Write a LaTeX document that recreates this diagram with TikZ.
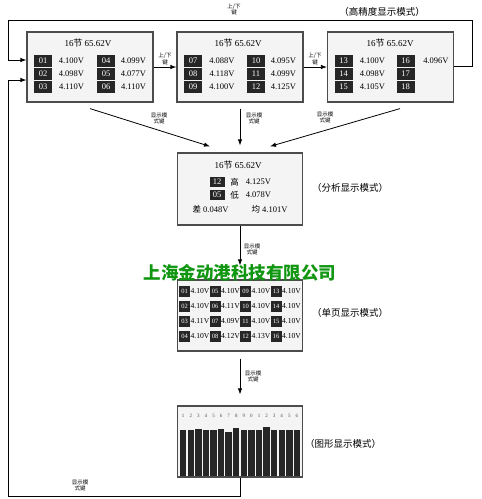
\documentclass[tikz,border=0pt]{standalone}
\usepackage{fontspec}
\setmainfont{Liberation Serif}
\newfontfamily\cjk{Noto Sans CJK SC}
\usetikzlibrary{arrows.meta}
\newcommand\zhs[1]{{\cjk #1}}
\definecolor{boxfill}{RGB}{244,244,244}
\definecolor{cellfill}{RGB}{38,38,38}
\definecolor{brandgreen}{RGB}{16,150,16}
\begin{document}
\begin{tikzpicture}[x=1pt,y=-1pt,
  panel/.style={draw=black!70, line width=1.2pt, fill=boxfill, minimum width=125pt, minimum height=70pt, inner sep=0},
  cell/.style={fill=cellfill, text=white, minimum width=18pt, minimum height=11.5pt, inner sep=0, font=\fontsize{8.5}{9}\selectfont},
  val/.style={inner sep=0, font=\fontsize{8.5}{9}\selectfont},
  ttl/.style={inner sep=0, font=\fontsize{9}{10}\selectfont},
  keylbl/.style={inner sep=0, align=center, font=\cjk\fontsize{5.5}{6.5}\selectfont},
  mode/.style={inner sep=0, font=\cjk\fontsize{9.5}{10}\selectfont},
  scell/.style={fill=cellfill, text=white, minimum width=11pt, minimum height=11pt, inner sep=0, font=\fontsize{6.5}{6.5}\selectfont},
  sval/.style={inner sep=0, font=\fontsize{7.6}{8}\selectfont},
  bar/.style={fill=cellfill, draw=none},
  link/.style={draw=black, line width=0.8pt},
  arr/.style={link, -{Latex[length=6pt,width=4.5pt]}},
]
\useasboundingbox (0,0) rectangle (482,499);

% ---------- top row ----------
\node[panel, minimum width=126pt] (p1) at (90,67) {};
\node[panel, minimum width=126pt] (p2) at (240,67) {};
\node[panel, minimum width=126pt] (p3) at (390.5,67) {};

\node[ttl] (p1t) at (88,43) {16\zhs{节} 65.62V};
\foreach \y/\a/\va/\b/\vb [count=\i] in {61/01/4.100V/04/4.099V, 74/02/4.098V/05/4.077V, 87/03/4.110V/06/4.110V}{
  \node[cell] (p1a\i) at (43,\y) {\a};
  \node[val] (p1av\i) at (71.5,\y) {\va};
  \node[cell] (p1b\i) at (106,\y) {\b};
  \node[val] (p1bv\i) at (133.5,\y) {\vb};
}
\node[ttl] (p2t) at (238,43) {16\zhs{节} 65.62V};
\foreach \y/\a/\va/\b/\vb [count=\i] in {61/07/4.088V/10/4.095V, 74/08/4.118V/11/4.099V, 87/09/4.100V/12/4.125V}{
  \node[cell] (p2a\i) at (193,\y) {\a};
  \node[val] (p2av\i) at (222,\y) {\va};
  \node[cell] (p2b\i) at (256,\y) {\b};
  \node[val] (p2bv\i) at (283.5,\y) {\vb};
}
\node[ttl] (p3t) at (390,43) {16\zhs{节} 65.62V};
\foreach \y/\a/\va/\b/\vb [count=\i] in {61/13/4.100V/16/4.096V, 74/14/4.098V/17/{}, 87/15/4.105V/18/{}}{
  \node[cell] (p3a\i) at (343.5,\y) {\a};
  \node[val] (p3av\i) at (372.5,\y) {\va};
  \node[cell] (p3b\i) at (405.5,\y) {\b};
  \node[val] (p3bv\i) at (436,\y) {\vb};
}

\draw[arr] (p1.east) -- (p2.west);
\draw[arr] (p2.east) -- (p3.west);
\node[keylbl] (k12) at (165,59) {上/下\\键};
\node[keylbl] (k23) at (315,59) {上/下\\键};

\coordinate (topR) at (472,20);
\coordinate (topL) at (8,20);
\draw[arr] ([yshift=1pt]p3.east) -| (topR) -- (topL) |- ([yshift=7pt]p1.west);
\node[keylbl] (ktop) at (234,9.5) {上/下\\键};
\node[mode] (m1) at (382,12) {（高精度显示模式）};

% ---------- analysis ----------
\node[panel, minimum height=72pt] (an) at (240,189) {};
\node[ttl] (ant) at (238,165) {16\zhs{节} 65.62V};
\node[cell, minimum width=15pt, minimum height=10.5pt] (anc1) at (217,182) {12};
\node[cell, minimum width=15pt, minimum height=10.5pt] (anc2) at (217,195) {05};
\node[val] (anh) at (234.5,182) {\zhs{高}};
\node[val] (anhv) at (258.5,182) {4.125V};
\node[val] (anl) at (234.5,195) {\zhs{低}};
\node[val] (anlv) at (258.5,195) {4.078V};
\node[val] (and) at (210.5,209) {\zhs{差} 0.048V};
\node[val] (anm) at (269.5,209) {\zhs{均} 4.101V};
\node[mode] (m2) at (350,188) {（分析显示模式）};

\draw[arr] ([yshift=-6pt]p1.south) -- ([xshift=-30pt,yshift=6pt]an.north);
\draw[arr] ([yshift=-6pt]p2.south) -- ([yshift=7pt]an.north);
\draw[arr] ([xshift=9.5pt,yshift=-6pt]p3.south) -- ([xshift=30pt,yshift=6pt]an.north);
\node[keylbl] (ka) at (159,118.5) {显示模\\式键};
\node[keylbl] (kb) at (254,118.5) {显示模\\式键};
\node[keylbl] (kc) at (325,117.5) {显示模\\式键};

% ---------- single page ----------
\node[panel, minimum height=71pt] (sp) at (240,315.5) {};
\foreach \x/\la/\lb/\lc/\ld/\va/\vb/\vc/\vd [count=\j] in {
   184.5/01/02/03/04/4.10V/4.10V/4.11V/4.10V,
   215/05/06/07/08/4.10V/4.11V/4.09V/4.12V,
   245.5/09/10/11/12/4.10V/4.10V/4.10V/4.13V,
   276/13/14/15/16/4.10V/4.10V/4.10V/4.10V}{
  \node[scell] (sc\j a) at (\x,291) {\la};
  \node[scell] (sc\j b) at (\x,306) {\lb};
  \node[scell] (sc\j c) at (\x,321) {\lc};
  \node[scell] (sc\j d) at (\x,336) {\ld};
  \node[sval] (sv\j a) at (\x+15.5,291) {\va};
  \node[sval] (sv\j b) at (\x+15.5,306) {\vb};
  \node[sval] (sv\j c) at (\x+15.5,321) {\vc};
  \node[sval] (sv\j d) at (\x+15.5,336) {\vd};
}
\node[mode] (m3) at (350,313) {（单页显示模式）};

\draw[arr] (an.south) -- ([yshift=14pt]sp.north);
\node[keylbl] (kd) at (252,249.5) {显示模\\式键};
\node[inner sep=0, text=brandgreen, font=\cjk\bfseries\fontsize{17.5}{18}\selectfont] (brand) at (240,273) {上海金动港科技有限公司};

% ---------- graph ----------
\node[panel, minimum height=71pt] (gr) at (240,441.5) {};
\foreach \t [count=\i from 0] in {430,430,429,430,430,429,432,428,430,430,429.5,427,430,430,430,430}{
  \fill[bar] (180+7.58*\i,\t) rectangle (186.4+7.58*\i,476);
}
\foreach \n [count=\i from 0] in {1,2,3,4,5,6,7,8,9,0,1,2,3,4,5,6}{
  \node[inner sep=0, font=\fontsize{5}{5}\selectfont, text=black!70] (gn\i) at (183.2+7.58*\i,416) {\n};
}
\node[mode] (m4) at (343,444) {（图形显示模式）};

\draw[arr] ([yshift=-7pt]sp.south) -- ([yshift=11pt]gr.north);
\node[keylbl] (ke) at (253,376.5) {显示模\\式键};

\coordinate (botL) at (8,496);
\draw[arr] (gr.south) |- (botL) |- ([yshift=-13pt]p1.west);
\node[keylbl] (kf) at (80,485.5) {显示模\\式键};
\end{tikzpicture}
\end{document}
